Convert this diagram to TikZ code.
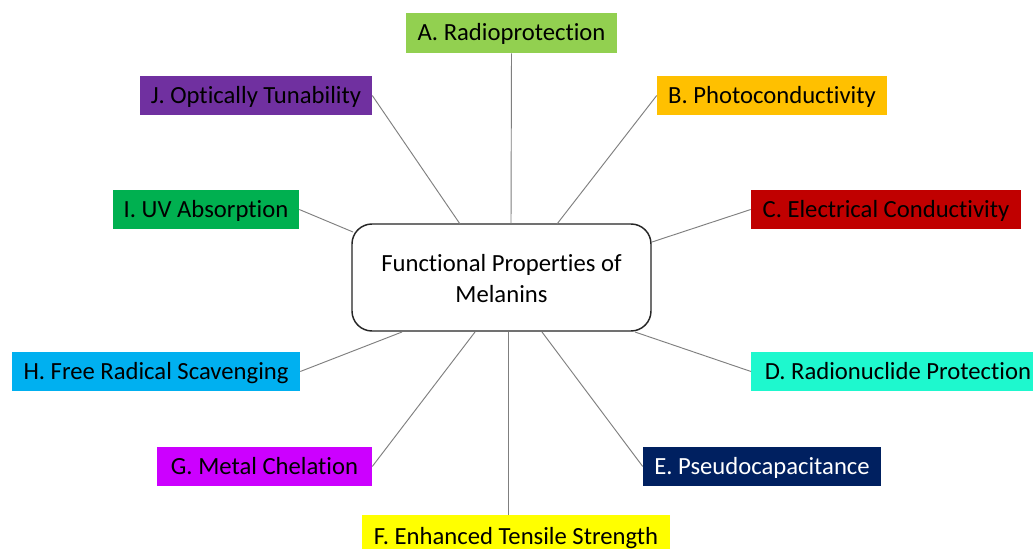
\documentclass[tikz,border=0pt]{standalone}
\usepackage{fontspec}
\setmainfont{Carlito}[Ligatures={NoCommon}]
\definecolor{cA}{HTML}{92D050}
\definecolor{cB}{HTML}{FFC000}
\definecolor{cJ}{HTML}{7030A0}
\definecolor{cC}{HTML}{C00000}
\definecolor{cI}{HTML}{00B050}
\definecolor{cH}{HTML}{00B0F0}
\definecolor{cD}{HTML}{1EF8CE}
\definecolor{cG}{HTML}{CC00FF}
\definecolor{cE}{HTML}{002060}
\definecolor{cF}{HTML}{FFFF00}
\definecolor{link}{HTML}{7F7F7F}
\begin{document}
\begin{tikzpicture}[x=0.75pt,y=-0.75pt,
  prop/.style={inner sep=0pt, font=\fontsize{18.5}{22}\selectfont, text=black, text height=14pt, text depth=2pt},
  hub/.style={draw=black!85, line width=1.1pt, rounded corners=15pt, fill=white, inner sep=0pt,
     minimum width=224.25pt, minimum height=80.25pt, align=center, font=\fontsize{18.5}{23}\selectfont},
  spoke/.style={draw=link, line width=0.7pt}]
\useasboundingbox (0,0) rectangle (1033,549);
\fill[white] (0,0) rectangle (1033,549);
\node[hub] (M) at (501.5,277.5) {\rule{0pt}{14pt}Functional Properties of\\Melanins};
\node[prop, fill=cA, minimum width=158.25pt, minimum height=30pt] (A) at (511.5,33) {A. Radioprotection};
\node[prop, fill=cB, minimum width=172.5pt, minimum height=29.25pt] (B) at (772,95.5) {B. Photoconductivity};
\node[prop, fill=cJ, minimum width=174pt, minimum height=29.25pt] (J) at (256,95.5) {J. Optically Tunability};
\node[prop, fill=cC, minimum width=202.5pt, minimum height=29.25pt] (C) at (886,209.5) {C. Electrical Conductivity};
\node[prop, fill=cI, minimum width=139.5pt, minimum height=29.25pt] (I) at (206,209.5) {I. UV Absorption};
\node[prop, fill=cH, minimum width=216pt, minimum height=29.25pt] (H) at (156,371.5) {H. Free Radical Scavenging};
\node[prop, fill=cD, minimum width=216pt, minimum height=29.25pt, anchor=west] (D) at (751,371.5) {\hspace{4pt}D. Radionuclide Protection\hfill};
\node[prop, fill=cG, minimum width=161.25pt, minimum height=29.25pt] (G) at (264.5,466.5) {G. Metal Chelation};
\node[prop, fill=cE, text=white, minimum width=178.5pt, minimum height=29.25pt] (E) at (762,466.5) {E. Pseudocapacitance};
\node[prop, fill=cF, minimum width=231pt, minimum height=31.5pt, anchor=north] (F) at (516,515) {F. Enhanced Tensile Strength};
% spokes
\coordinate (mJ) at (460,224);
\coordinate (mA) at (511,224);
\coordinate (mB) at (557,224);
\coordinate (mI) at (353,232);
\coordinate (mC) at (652,242);
\coordinate (mH) at (402,332);
\coordinate (mG) at (475,332);
\coordinate (mF) at (508,332);
\coordinate (mE) at (542,332);
\coordinate (mD) at (635,332);
\draw[spoke] (A.south) -- (mA);
\draw[spoke] (B.west) -- (mB);
\draw[spoke] (J.east) -- (mJ);
\draw[spoke] (I.east) -- (mI);
\draw[spoke] (C.west) -- (mC);
\draw[spoke] (H.east) -- (mH);
\draw[spoke] (D.west) -- (mD);
\draw[spoke] (G.east) -- (mG);
\draw[spoke] (E.west) -- (mE);
\draw[spoke] (F.north -| mF) -- (mF);
\end{tikzpicture}
\end{document}
